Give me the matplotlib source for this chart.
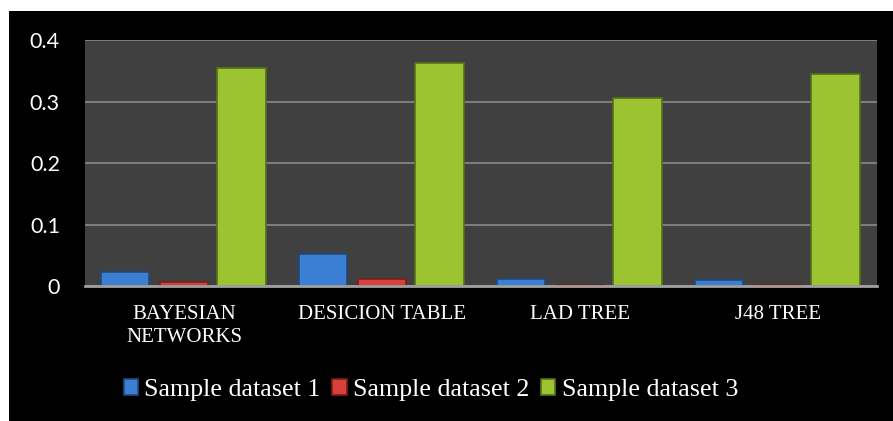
import numpy as np
import matplotlib.pyplot as plt
from matplotlib.patches import Rectangle

categories = ['BAYESIAN\nNETWORKS', 'DESICION TABLE', 'LAD TREE', 'J48 TREE']
series_names = ['Sample dataset 1', 'Sample dataset 2', 'Sample dataset 3']
dataset1 = [0.023, 0.052, 0.011, 0.010]
dataset2 = [0.006, 0.012, 0.001, 0.001]
dataset3 = [0.354, 0.362, 0.305, 0.344]
yticks = [0, 0.1, 0.2, 0.3, 0.4]
ytick_labels = ['0', '0.1', '0.2', '0.3', '0.4']

colors = ['#3b7fd3', '#d8403c', '#9cc431']
edges = ['#1f4a80', '#7a1f1c', '#55701a']

W, H = 893, 421
fig = plt.figure(figsize=(W / 100, H / 100), dpi=100, facecolor='white')
# black panel behind the chart (white strip on top and left)
bg = Rectangle((9 / W, 0), 1 - 9 / W, 1 - 11 / H, transform=fig.transFigure,
               facecolor='black', edgecolor='none', zorder=-10)
fig.add_artist(bg)

ax = fig.add_axes([85 / W, 1 - 286 / H, (877 - 85) / W, (286 - 40) / H])
ax.set_zorder(2)
ax.set_facecolor('#404040')

x = np.arange(len(categories))
width = 0.245
offsets = [-0.297, 0.0, 0.29]
for vals, off, c, ec, name in zip([dataset1, dataset2, dataset3], offsets,
                                  colors, edges, series_names):
    ax.bar(x + off, vals, width, color=c, edgecolor=ec, linewidth=1.2,
           label=name, zorder=3)

ax.set_xlim(-0.5, len(categories) - 0.5)
ax.set_ylim(0, 0.4)
ax.set_yticks(yticks)
ax.set_yticklabels(ytick_labels, color='white', fontsize=15.5, family='Lato')
ax.set_xticks(x)
ax.set_xticklabels(categories, color='white', fontsize=15,
                   family='Liberation Serif', linespacing=1.22)
ax.tick_params(axis='y', length=0, pad=18)
ax.tick_params(axis='x', length=0, pad=14)
ax.yaxis.grid(True, color='#8a8a8a', linewidth=1.2, zorder=1)
for s in ['top', 'right', 'left']:
    ax.spines[s].set_visible(False)
ax.spines['bottom'].set_color('#a0a0a0')
ax.spines['bottom'].set_linewidth(2)
ax.spines['bottom'].set_zorder(4)

leg = fig.legend(loc='center', bbox_to_anchor=(431 / W, 1 - 390 / H), ncol=3,
                 frameon=False, handlelength=0.55, handleheight=0.55,
                 handletextpad=0.25, columnspacing=0.45,
                 prop={'family': 'Liberation Serif', 'size': 18.7})
leg.set_zorder(3)
for t in leg.get_texts():
    t.set_color('white')

fig.savefig('out.png', dpi=100, facecolor=fig.get_facecolor())
